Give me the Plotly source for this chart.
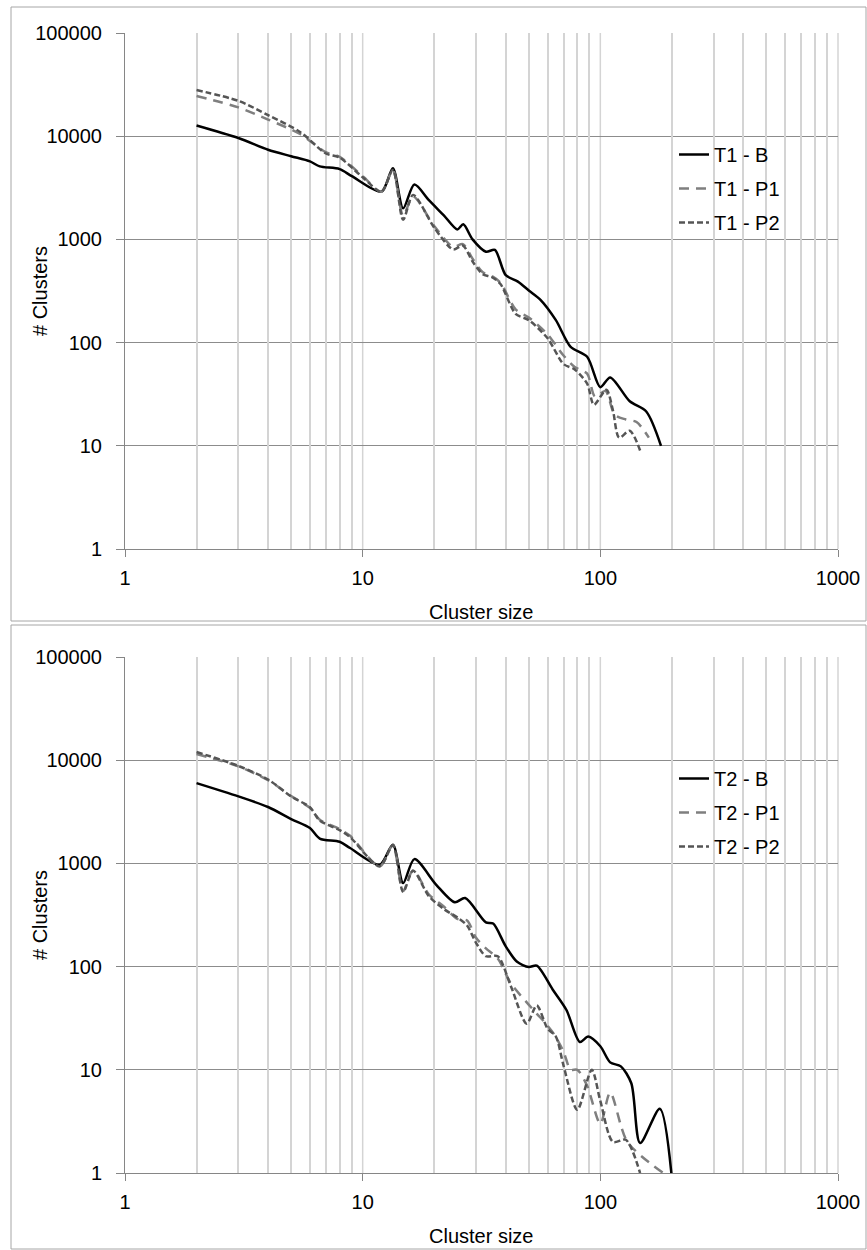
import math
import plotly.graph_objects as go

# ---- data: cluster-size distributions -------------------------------------
t1_b_x = [2, 3, 4, 5, 6, 6.6, 8, 9, 12, 13.4, 14.8, 16.5, 19, 22, 25, 26.5, 29, 33, 36, 40, 45, 50, 56, 65, 75, 88, 100, 110, 133, 156, 180]
t1_b_y = [12700, 9600, 7400, 6400, 5700, 5100, 4800, 4100, 2900, 4900, 2000, 3400, 2400, 1700, 1250, 1400, 1000, 760, 790, 450, 390, 320, 260, 165, 91, 73, 37, 46, 27, 21.5, 10]

t1_p1_x = [2, 3, 4, 5.45, 7, 8, 10, 12, 13.4, 14.8, 16.3, 20, 24, 26.4, 29, 32, 35, 38, 44, 50, 60, 70, 78, 88, 95, 105, 115, 128, 142, 160]
t1_p1_y = [24500, 19000, 14500, 10500, 7000, 6300, 4100, 2900, 4700, 1700, 2600, 1350, 850, 900, 650, 480, 440, 380, 210, 175, 120, 75, 58, 50, 30, 34, 20, 18, 17, 12]

t1_p2_x = [2, 3, 4, 5.45, 7, 8, 10, 12, 13.4, 14.8, 16.3, 20, 24, 26.4, 29, 32, 35, 38, 44, 50, 60, 70, 78, 88, 94, 106, 113, 120, 133, 147]
t1_p2_y = [28000, 22000, 16000, 11000, 6800, 6200, 4000, 2900, 4700, 1550, 2700, 1300, 800, 870, 610, 460, 430, 370, 190, 165, 110, 62, 55, 40, 25, 35, 22, 12, 14, 9]

t2_b_x = [2, 3, 4, 5, 6, 6.6, 8, 8.85, 11.8, 13.4, 14.8, 16.5, 20.4, 24.4, 27, 33, 35.4, 40, 44.5, 50, 54, 63, 72, 82, 89, 100, 110, 122, 135, 147, 178, 199]
t2_b_y = [6000, 4460, 3520, 2690, 2200, 1740, 1620, 1410, 970, 1520, 645, 1100, 620, 420, 462, 268, 261, 157, 112, 99, 102, 60, 38, 18.6, 21, 16.9, 11.8, 10.8, 7.4, 1.95, 4.2, 1]

t2_p1_x = [2, 3, 4, 5, 6, 6.6, 8, 8.85, 11.8, 13.4, 14.8, 16.3, 19, 22, 25, 27.5, 30, 33, 37, 42, 49, 54, 59, 64, 70, 75, 80, 88, 100, 110, 130, 184]
t2_p1_y = [11500, 8700, 6400, 4500, 3450, 2650, 2150, 1850, 935, 1500, 540, 860, 500, 380, 290, 280, 190, 150, 120, 69, 45, 35, 28, 22, 15, 10, 10, 7, 3, 6, 2, 1]

t2_p2_x = [2, 3, 4, 5, 6, 6.6, 8, 8.85, 11.8, 13.4, 14.8, 16.3, 19, 22, 25, 27.5, 30, 33, 37, 42, 49, 54, 60, 65, 70, 80, 92, 100, 113, 128, 147]
t2_p2_y = [12000, 8800, 6500, 4450, 3500, 2600, 2100, 1800, 935, 1500, 530, 850, 480, 360, 300, 250, 170, 126, 126, 65, 28, 42, 25, 21, 11, 4.1, 10, 5, 2, 2.1, 1]

x_ticks = [1, 10, 100, 1000]
x_tick_text = ["1", "10", "100", "1000"]
y_ticks = [1, 10, 100, 1000, 10000, 100000]
y_tick_text = ["1", "10", "100", "1000", "10000", "100000"]
# light vertical gridlines at 2..9 x 10^k, and at the decades 10, 100, 1000
x_grid = [m * 10 ** k for k in range(3) for m in range(2, 10)]
x_grid_decades = [10, 100, 1000]

# ---- page geometry (pixels) -----------------------------------------------
W, H = 867, 1250
PX_L, PX_R = 125, 838
PANELS = [(33, 549), (657, 1173)]  # (top, bottom) of each plot area
FONT = "Liberation Sans, Arial, sans-serif"
FS = 20
GRID_LIGHT = "#d4d4d4"

def px_x(p):
    return p / W

def px_y(p):
    return 1 - p / H

def log_px(v):
    # pixel column of value v on the 1..1000 log axis
    return PX_L + (PX_R - PX_L) * math.log10(v) / 3

STYLE_B = dict(color="#000000", width=2.5)
STYLE_P1 = dict(color="#7f7f7f", width=2.5, dash="10px,7px")
STYLE_P2 = dict(color="#555555", width=2.5, dash="6px,3px")

fig = go.Figure()

# empty traces that attach the gridline helper axes to each panel
for gx, gy in [("x3", "y"), ("x4", "y2")]:
    fig.add_trace(go.Scatter(x=[], y=[], xaxis=gx, yaxis=gy, showlegend=False,
                             hoverinfo="skip", mode="lines"))

series = [
    ("T1 - B", t1_b_x, t1_b_y, STYLE_B, 1),
    ("T1 - P1", t1_p1_x, t1_p1_y, STYLE_P1, 1),
    ("T1 - P2", t1_p2_x, t1_p2_y, STYLE_P2, 1),
    ("T2 - B", t2_b_x, t2_b_y, STYLE_B, 2),
    ("T2 - P1", t2_p1_x, t2_p1_y, STYLE_P1, 2),
    ("T2 - P2", t2_p2_x, t2_p2_y, STYLE_P2, 2),
]
for name, xs, ys, style, panel in series:
    fig.add_trace(go.Scatter(
        x=xs, y=ys, name=name, mode="lines",
        line=dict(shape="spline", smoothing=0.8, **style),
        xaxis="x" if panel == 1 else "x2",
        yaxis="y" if panel == 1 else "y2",
        legend="legend" if panel == 1 else "legend2",
        legendgroup=name,
    ))

def x_axis(anchor):
    # labelled axis: decade ticks only, gridlines come from the helper axis
    return dict(
        type="log", range=[0, 3], domain=[px_x(PX_L), px_x(PX_R)], anchor=anchor,
        tickmode="array", tickvals=x_ticks, ticktext=x_tick_text,
        showgrid=False,
        ticks="outside", ticklen=7, tickcolor="#868686", tickwidth=1,
        showline=True, linecolor="#868686", linewidth=1,
        zeroline=False, automargin=False, ticklabelstandoff=4,
        tickfont=dict(family=FONT, size=FS, color="#000000"),
    )

def x_grid_axis(anchor, overlay):
    return dict(
        type="log", range=[0, 3], domain=[px_x(PX_L), px_x(PX_R)], anchor=anchor,
        overlaying=overlay,
        tickmode="array", tickvals=x_grid,
        showticklabels=False, ticks="",
        showgrid=True, gridcolor=GRID_LIGHT, gridwidth=1.5,
        showline=False, zeroline=False, automargin=False,
    )

def y_axis(anchor, top, bottom):
    return dict(
        type="log", range=[0, 5], domain=[px_y(bottom), px_y(top)], anchor=anchor,
        tickmode="array", tickvals=y_ticks, ticktext=y_tick_text,
        showgrid=True, gridcolor="#8c8c8c", gridwidth=1,
        ticks="outside", ticklen=8, tickcolor="#868686", tickwidth=1,
        showline=True, linecolor="#868686", linewidth=1,
        zeroline=False, automargin=False, ticklabelstandoff=10,
        tickfont=dict(family=FONT, size=FS, color="#000000"),
    )

legend_common = dict(
    xanchor="left", yanchor="top", bgcolor="rgba(0,0,0,0)", borderwidth=0,
    font=dict(family=FONT, size=FS, color="#000000"), tracegroupgap=5,
    itemwidth=30,
)

annotations = []
shapes = []
for (top, bottom) in PANELS:
    mid = (top + bottom) / 2
    annotations.append(dict(
        text="# Clusters", xref="paper", yref="paper", x=px_x(40), y=px_y(mid),
        textangle=-90, showarrow=False, xanchor="center", yanchor="middle",
        font=dict(family=FONT, size=FS, color="#000000"),
    ))
    annotations.append(dict(
        text="Cluster size", xref="paper", yref="paper", x=px_x((PX_L + PX_R) / 2),
        y=px_y(bottom + 63), showarrow=False, xanchor="center", yanchor="middle",
        font=dict(family=FONT, size=FS, color="#000000"),
    ))
    # decade gridlines, drawn between the grid and the traces
    for v in x_grid_decades:
        xp = px_x(log_px(v))
        shapes.append(dict(
            type="line", xref="paper", yref="paper", layer="between",
            x0=xp, x1=xp, y0=px_y(bottom), y1=px_y(top),
            line=dict(color=GRID_LIGHT, width=1.5),
        ))

# outer frames around each chart
for (y0, y1) in [(7, 621), (625, 1249)]:
    shapes.append(dict(
        type="rect", xref="paper", yref="paper",
        x0=px_x(11), x1=px_x(866), y0=px_y(y1), y1=px_y(y0),
        line=dict(color="#a6a6a6", width=1), fillcolor="rgba(0,0,0,0)", layer="below",
    ))

fig.update_layout(
    width=W, height=H, margin=dict(l=0, r=0, t=0, b=0),
    paper_bgcolor="#ffffff", plot_bgcolor="#ffffff",
    xaxis=x_axis("y"), yaxis=y_axis("x", *PANELS[0]),
    xaxis2=x_axis("y2"), yaxis2=y_axis("x2", *PANELS[1]),
    xaxis3=x_grid_axis("y", "x"), xaxis4=x_grid_axis("y2", "x2"),
    legend=dict(x=px_x(674), y=px_y(135), **legend_common),
    legend2=dict(x=px_x(674), y=px_y(759), **legend_common),
    annotations=annotations, shapes=shapes, showlegend=True,
)

fig.write_html("out.html")
